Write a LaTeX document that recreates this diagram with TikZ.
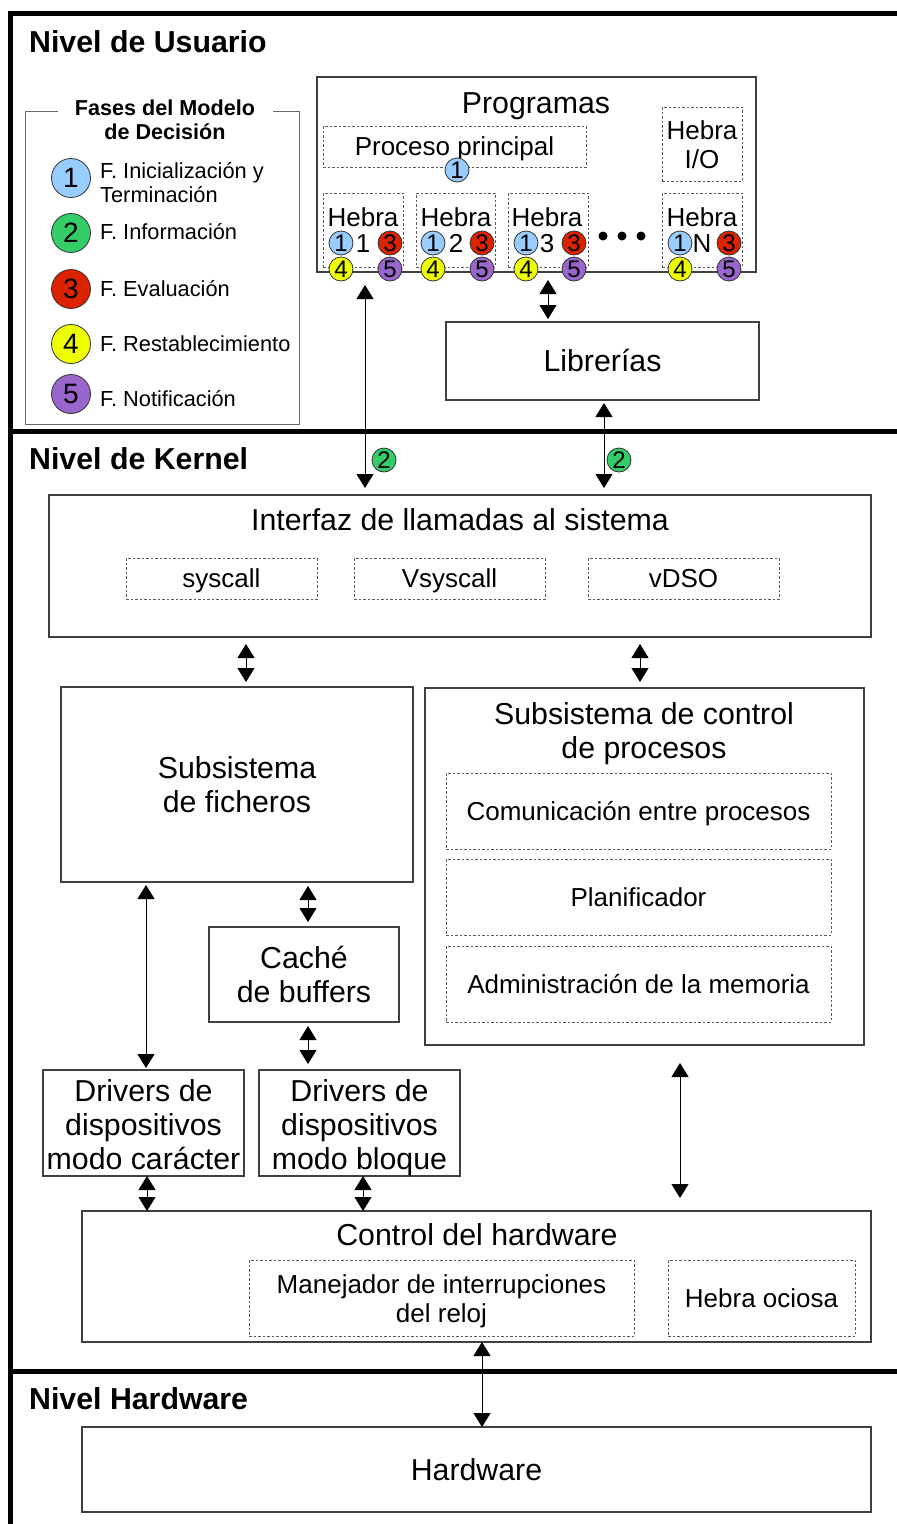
\documentclass[tikz,border=0pt]{standalone}
\usepackage{fontspec}
\setmainfont{Liberation Sans}
\usetikzlibrary{arrows.meta,calc}
\definecolor{phA}{RGB}{153,204,255}
\definecolor{phB}{RGB}{51,204,102}
\definecolor{phC}{RGB}{221,34,0}
\definecolor{phD}{RGB}{238,255,0}
\definecolor{phE}{RGB}{153,102,204}
\begin{document}
\begin{tikzpicture}[x=1pt,y=-1pt,
  box/.style={draw=black!75, line width=1.1pt, inner sep=0pt, outer sep=0pt, anchor=north west},
  dbox/.style={draw=black!65, line width=0.9pt, dash pattern=on 2.5pt off 2pt, inner sep=0pt, outer sep=0pt, anchor=north west},
  big/.style={font=\fontsize{30.3}{34}\selectfont, align=center},
  med/.style={font=\fontsize{26}{29}\selectfont, align=center},
  bigl/.style={big, text height=21.7pt, text depth=0pt},
  medl/.style={med, text height=18.6pt, text depth=0pt},
  lvl/.style={font=\fontsize{30.3}{34}\selectfont\bfseries, anchor=base west, inner sep=0pt},
  legt/.style={font=\fontsize{21.8}{24}\selectfont, anchor=west, inner sep=0pt, align=left},
  ph/.style={circle, draw=black!80, line width=0.8pt, inner sep=0pt, minimum size=24pt, font=\fontsize{24}{24}\selectfont},
  bigph/.style={ph, minimum size=39pt, font=\fontsize{28}{28}\selectfont},
  dar/.style={{Triangle[width=17pt,length=14pt]}-{Triangle[width=17pt,length=14pt]}, line width=1pt},
  frameline/.style={line width=5pt}
]
\useasboundingbox (0,0) rectangle (897,1524);

% ---------- level frame ----------
\draw[frameline] (897,13) -- (10,13) -- (10,1524);
\draw[frameline] (10,431) -- (897,431);
\draw[frameline] (10,1371) -- (897,1371);
\node[lvl] (lvU) at (29,52) {Nivel de Usuario};
\node[lvl] (lvK) at (29,469.5) {Nivel de Kernel};
\node[lvl] (lvH) at (29,1409.5) {Nivel Hardware};

% ---------- legend ----------
\draw[draw=black!60, line width=1pt] (58,111) -- (25,111) -- (25,424) -- (299,424) -- (299,111) -- (273,111);
\node[font=\fontsize{21.6}{24}\selectfont\bfseries, align=center, inner sep=0pt] (legtitle) at (165,120) {Fases del Modelo\\de Decisión};
\node[bigph, fill=phA] (lg1) at (71,178) {1};
\node[bigph, fill=phB] (lg2) at (71,233) {2};
\node[bigph, fill=phC] (lg3) at (71,289) {3};
\node[bigph, fill=phD] (lg4) at (71,344) {4};
\node[bigph, fill=phE] (lg5) at (71,394) {5};
\node[legt] (lt1) at (100,183) {F. Inicialización y\\Terminación};
\node[legt] (lt2) at (100,232) {F. Información};
\node[legt] (lt3) at (100,289) {F. Evaluación};
\node[legt] (lt4) at (100,344) {F. Restablecimiento};
\node[legt] (lt5) at (100,399) {F. Notificación};

% ---------- programs ----------
\node[box, minimum width=439, minimum height=195] (prog) at (317,77) {};
\node[bigl, inner sep=0pt] (progt) at (536,103) {Programas};
\node[dbox, medl, minimum width=263, minimum height=41] (pp) at (323,126) {Proceso principal};
\node[dbox, med, minimum width=80, minimum height=74] (hio) at (662,107) {};
\node[med, inner sep=0pt] (hiot) at (702,145) {Hebra\\I/O};
\node[ph, fill=phA] (pp1) at (457,170) {1};

\node[dbox, minimum width=80, minimum height=74] (hb1) at (323,193) {};
\node[dbox, minimum width=79, minimum height=74] (hb2) at (416,193) {};
\node[dbox, minimum width=80, minimum height=74] (hb3) at (508,193) {};
\node[dbox, minimum width=80, minimum height=74] (hbN) at (662,193) {};
\foreach \n/\xa/\xt/\xb in {1/341/363/390, 2/433/456/482, 3/526/547/574, N/680/702/729}{
  \node[medl, inner sep=0pt] (hl\n) at (\xt,217) {Hebra};
  \node[medl, inner sep=0pt] (hn\n) at (\xt,243) {\n};
  \node[ph, fill=phA] (h\n a) at (\xa,243) {1};
  \node[ph, fill=phC] (h\n c) at (\xb,243) {3};
  \node[ph, fill=phD] (h\n d) at (\xa,269) {4};
  \node[ph, fill=phE] (h\n e) at (\xb,269) {5};
}
\node[circle, fill=black, inner sep=0pt, minimum size=9pt] (dt1) at (603,236) {};
\node[circle, fill=black, inner sep=0pt, minimum size=9pt] (dt2) at (622,236) {};
\node[circle, fill=black, inner sep=0pt, minimum size=9pt] (dt3) at (641,236) {};

\node[box, bigl, minimum width=313, minimum height=78] (lib) at (446,322) {Librerías};

% ---------- kernel ----------
\node[box, minimum width=822, minimum height=142] (intf) at (49,495) {};
\node[bigl, inner sep=0pt] (intft) at (460,520) {Interfaz de llamadas al sistema};
\node[dbox, medl, minimum width=191, minimum height=41] (sysc) at (126,558) {syscall};
\node[dbox, medl, minimum width=191, minimum height=41] (vsys) at (354,558) {Vsyscall};
\node[dbox, medl, minimum width=191, minimum height=41] (vdso) at (588,558) {vDSO};

\node[box, big, minimum width=352, minimum height=195] (fich) at (61,687) {Subsistema\\de ficheros};
\node[box, minimum width=439, minimum height=357] (proc) at (425,688) {};
\node[big, inner sep=0pt] (proct) at (644,734) {Subsistema de control\\de procesos};
\node[dbox, medl, minimum width=385, minimum height=76] (ipc) at (446,773) {Comunicación entre procesos};
\node[dbox, medl, minimum width=385, minimum height=76] (plan) at (446,859) {Planificador};
\node[dbox, medl, minimum width=385, minimum height=76] (mem) at (446,946) {Administración de la memoria};

\node[box, big, minimum width=190, minimum height=95] (cache) at (209,927) {Caché\\de buffers};
\node[box, minimum width=201, minimum height=106] (drvc) at (43,1070) {};
\node[big, inner sep=0pt] (drvct) at (143.5,1125) {Drivers de\\dispositivos\\modo carácter};
\node[box, minimum width=201, minimum height=106] (drvb) at (259,1070) {};
\node[big, inner sep=0pt] (drvbt) at (359.5,1128) {Drivers de\\dispositivos\\modo bloque};

\node[box, minimum width=789, minimum height=131] (ctrl) at (82,1211) {};
\node[bigl, inner sep=0pt] (ctrlt) at (477,1235) {Control del hardware};
\node[dbox, minimum width=385, minimum height=76] (mane) at (249,1260) {};
\node[med, inner sep=0pt] (manet) at (441.5,1301) {Manejador de interrupciones\\del reloj};
\node[dbox, medl, minimum width=187, minimum height=76] (ocio) at (668,1260) {Hebra ociosa};

\node[box, bigl, minimum width=789, minimum height=85] (hw) at (82,1427) {Hardware};

% ---------- connectors ----------
\coordinate (xA) at (365,0);
\coordinate (xB) at (548,0);
\coordinate (xC) at (604,0);
\coordinate (xD) at (246,0);
\coordinate (xE) at (640,0);
\coordinate (xF) at (146,0);
\coordinate (xG) at (308,0);
\coordinate (xH) at (680,0);
\coordinate (xI) at (147,0);
\coordinate (xJ) at (363,0);
\coordinate (xK) at (482,0);

\draw[dar, shorten <=13pt, shorten >=7pt] (prog.south -| xA) -- (intf.north -| xA);
\draw[dar, shorten <=8pt, shorten >=3pt] (prog.south -| xB) -- (lib.north -| xB);
\draw[dar, shorten <=3pt, shorten >=7pt] (lib.south -| xC) -- (intf.north -| xC);
\node[ph, fill=phB] (i2a) at (384,460) {2};
\node[ph, fill=phB] (i2b) at (619,460) {2};

\draw[dar, shorten <=7pt, shorten >=5pt] (intf.south -| xD) -- (fich.north -| xD);
\draw[dar, shorten <=7pt, shorten >=6pt] (intf.south -| xE) -- (proc.north -| xE);
\draw[dar, shorten <=3pt, shorten >=2pt] (fich.south -| xF) -- (drvc.north -| xF);
\draw[dar, shorten <=4pt, shorten >=5pt] (fich.south -| xG) -- (cache.north -| xG);
\draw[dar, shorten <=4pt, shorten >=6pt] (cache.south -| xG) -- (drvb.north -| xG);
\draw[dar, shorten <=18pt, shorten >=13pt] (proc.south -| xH) -- (ctrl.north -| xH);
\draw[dar] (drvc.south -| xI) -- (ctrl.north -| xI);
\draw[dar] (drvb.south -| xJ) -- (ctrl.north -| xJ);
\draw[dar] (ctrl.south -| xK) -- (hw.north -| xK);
\end{tikzpicture}
\end{document}
